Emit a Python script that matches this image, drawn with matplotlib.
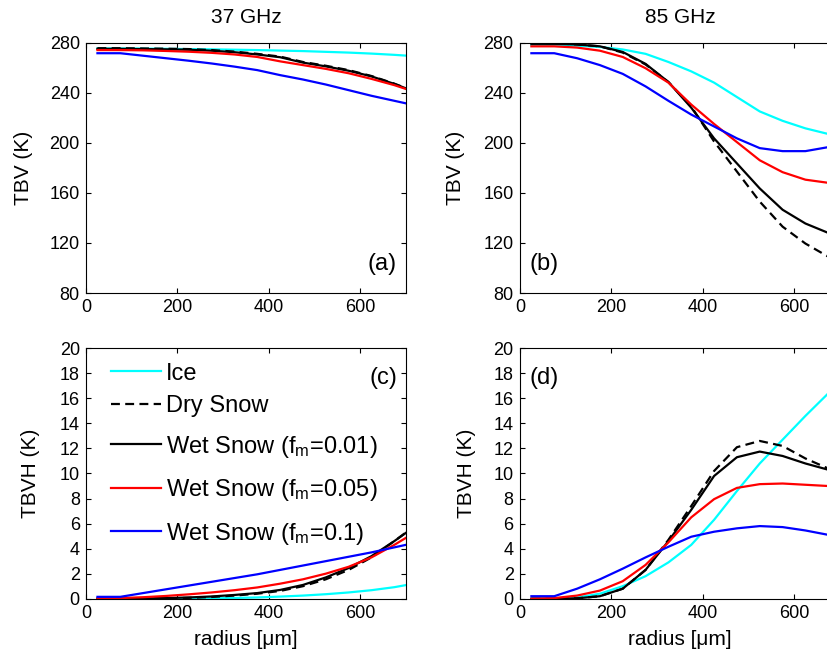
import numpy as np
import matplotlib
matplotlib.use("Agg")
import matplotlib.pyplot as plt

plt.rcParams['font.family'] = ['Liberation Sans', 'DejaVu Sans']
plt.rcParams['mathtext.default'] = 'regular'

# radius grid (um)
radius = [25, 75, 125, 175, 225, 275, 325, 375, 425, 475, 525, 575, 625, 675, 725]

# (a) TBV at 37 GHz
tbv37_ice = [275.3, 275.3, 275.2, 275.0, 274.8, 274.6, 274.3, 274.0, 273.6, 273.2, 272.6, 272.0, 271.2, 270.2, 269.0]
tbv37_dry = [275.5, 275.5, 275.3, 275.1, 274.8, 274.0, 272.8, 271.0, 268.8, 264.5, 261.5, 258.0, 253.3, 247.2, 240.2]
tbv37_w01 = [275.0, 275.0, 274.8, 274.6, 274.3, 273.5, 272.3, 270.5, 268.3, 264.0, 261.0, 257.5, 253.0, 247.0, 240.0]
tbv37_w05 = [274.0, 274.0, 273.8, 273.3, 272.7, 271.8, 270.5, 268.5, 265.0, 262.0, 259.0, 255.5, 251.0, 246.0, 240.0]
tbv37_w10 = [271.5, 271.5, 269.5, 267.5, 265.5, 263.3, 260.8, 258.0, 254.0, 250.5, 246.5, 242.0, 237.5, 233.5, 229.5]

# (b) TBV at 85 GHz
tbv85_ice = [278.0, 278.0, 277.5, 276.5, 274.5, 271.0, 264.5, 257.0, 248.0, 236.5, 225.0, 217.5, 211.5, 207.0, 203.0]
tbv85_dry = [279.5, 279.5, 278.5, 277.0, 272.0, 262.5, 248.5, 229.0, 201.0, 177.0, 153.0, 133.0, 119.5, 109.0, 100.0]
tbv85_w01 = [279.0, 279.0, 278.5, 277.0, 272.5, 263.0, 248.5, 228.0, 203.5, 183.5, 163.5, 146.5, 135.5, 128.0, 122.0]
tbv85_w05 = [277.0, 277.0, 276.0, 273.5, 268.5, 259.5, 248.0, 230.5, 215.0, 200.5, 186.0, 176.5, 170.5, 168.0, 167.0]
tbv85_w10 = [271.5, 271.5, 267.5, 262.0, 255.0, 245.0, 233.5, 222.5, 213.0, 203.5, 195.7, 193.3, 193.3, 196.5, 200.0]

# (c) TBV-TBH at 37 GHz
tbvh37_ice = [0.0, 0.0, 0.0, 0.0, 0.01, 0.03, 0.06, 0.10, 0.17, 0.25, 0.36, 0.50, 0.68, 0.92, 1.25]
tbvh37_dry = [0.0, 0.0, 0.01, 0.03, 0.07, 0.14, 0.25, 0.40, 0.62, 1.00, 1.55, 2.30, 3.30, 4.60, 5.95]
tbvh37_w01 = [0.0, 0.0, 0.02, 0.05, 0.10, 0.18, 0.30, 0.45, 0.70, 1.10, 1.70, 2.45, 3.40, 4.60, 5.90]
tbvh37_w05 = [0.02, 0.05, 0.12, 0.22, 0.35, 0.50, 0.68, 0.90, 1.20, 1.55, 2.00, 2.55, 3.30, 4.30, 5.40]
tbvh37_w10 = [0.15, 0.15, 0.45, 0.75, 1.05, 1.35, 1.65, 1.95, 2.30, 2.65, 3.00, 3.35, 3.70, 4.10, 4.50]

# (d) TBV-TBH at 85 GHz
tbvh85_ice = [0.0, 0.0, 0.1, 0.4, 1.0, 1.8, 2.9, 4.3, 6.3, 8.6, 10.8, 12.7, 14.6, 16.4, 18.2]
tbvh85_dry = [0.0, 0.0, 0.03, 0.2, 0.8, 2.3, 4.7, 7.4, 10.2, 12.1, 12.6, 12.2, 11.2, 10.4, 9.8]
tbvh85_w01 = [0.0, 0.0, 0.03, 0.2, 0.8, 2.3, 4.6, 7.1, 9.8, 11.3, 11.75, 11.4, 10.8, 10.3, 9.9]
tbvh85_w05 = [0.0, 0.05, 0.25, 0.65, 1.4, 2.7, 4.5, 6.5, 7.95, 8.85, 9.15, 9.2, 9.1, 9.0, 8.9]
tbvh85_w10 = [0.2, 0.2, 0.8, 1.55, 2.4, 3.3, 4.15, 4.95, 5.35, 5.62, 5.8, 5.72, 5.45, 5.1, 4.7]

labels = ['Ice', 'Dry Snow', 'Wet Snow (f$_{m}$=0.01)',
          'Wet Snow (f$_{m}$=0.05)', 'Wet Snow (f$_{m}$=0.1)']
colors = ['#00ffff', 'black', 'black', '#ff0000', '#0000ff']
styles = ['-', '--', '-', '-', '-']

panels = [
    ([tbv37_ice, tbv37_dry, tbv37_w01, tbv37_w05, tbv37_w10], '(a)'),
    ([tbv85_ice, tbv85_dry, tbv85_w01, tbv85_w05, tbv85_w10], '(b)'),
    ([tbvh37_ice, tbvh37_dry, tbvh37_w01, tbvh37_w05, tbvh37_w10], '(c)'),
    ([tbvh85_ice, tbvh85_dry, tbvh85_w01, tbvh85_w05, tbvh85_w10], '(d)'),
]

fig = plt.figure(figsize=(8.28, 6.58), dpi=100)
W, H = 0.3861, 0.3806
rects = [(0.1039, 0.5547), (0.628, 0.5547), (0.1039, 0.0901), (0.628, 0.0901)]

axes = []
for (x0, y0), (series, tag) in zip(rects, panels):
    ax = fig.add_axes([x0, y0, W, H])
    for y, c, ls, lab in zip(series, colors, styles, labels):
        kw = dict(dashes=(4, 2.4)) if ls == '--' else {}
        ax.plot(radius, y, color=c, lw=1.6, label=lab, **kw)
    ax.set_xlim(0, 700)
    ax.set_xticks([0, 200, 400, 600])
    ax.tick_params(direction='in', top=True, right=True, length=3.6,
                   width=0.8, labelsize=13, pad=4.5)
    for s in ax.spines.values():
        s.set_linewidth(0.8)
    axes.append(ax)

for ax in axes[:2]:
    ax.set_ylim(80, 280)
    ax.set_yticks(np.arange(80, 281, 40))
    ax.set_ylabel('TBV (K)', fontsize=15)
for ax in axes[2:]:
    ax.set_ylim(0, 20)
    ax.set_yticks(np.arange(0, 21, 2))
    ax.set_ylabel('TBVH (K)', fontsize=15)
    ax.set_xlabel('radius [μm]', fontsize=15)
    ax.xaxis.set_label_coords(0.5, -0.125)

axes[0].yaxis.set_label_coords(-0.166, 0.5)
axes[1].yaxis.set_label_coords(-0.172, 0.5)
axes[2].yaxis.set_label_coords(-0.144, 0.5)
axes[3].yaxis.set_label_coords(-0.138, 0.5)

axes[0].set_title('37 GHz', fontsize=15, pad=14)
axes[1].set_title('85 GHz', fontsize=15, pad=14)

axes[0].text(0.973, 0.114, '(a)', transform=axes[0].transAxes, fontsize=17, ha='right', va='center')
axes[1].text(0.031, 0.114, '(b)', transform=axes[1].transAxes, fontsize=17, ha='left', va='center')
axes[2].text(0.973, 0.881, '(c)', transform=axes[2].transAxes, fontsize=17, ha='right', va='center')
axes[3].text(0.031, 0.881, '(d)', transform=axes[3].transAxes, fontsize=17, ha='left', va='center')

# legend in two blocks so the subscripted rows get the wider spacing
h, l = axes[2].get_legend_handles_labels()
leg_kw = dict(loc='upper left', frameon=False, fontsize=17, handlelength=2.12,
              handletextpad=0.22, borderpad=0, borderaxespad=0)
leg1 = axes[2].legend(h[:2], l[:2], bbox_to_anchor=(0.077, 0.943),
                      labelspacing=0.45, **leg_kw)
axes[2].add_artist(leg1)
axes[2].legend(h[2:], l[2:], bbox_to_anchor=(0.077, 0.659),
               labelspacing=0.74, **leg_kw)

fig.savefig('out.png', dpi=100)
